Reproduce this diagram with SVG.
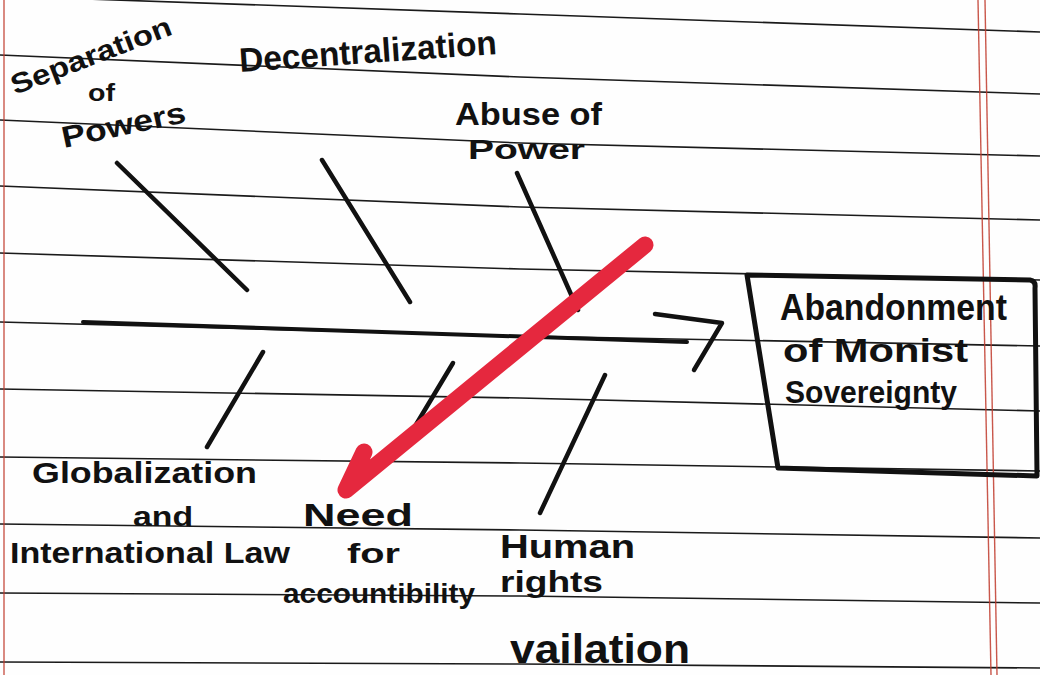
<svg xmlns="http://www.w3.org/2000/svg" width="1040" height="675" viewBox="0 0 1040 675">
<style>
.rule{fill:none;stroke:#1a1a1a;stroke-width:1.6}
.margin{fill:none;stroke:#c0392b;stroke-width:1.4;opacity:0.85}
.ink{fill:none;stroke:#111;stroke-linecap:round;stroke-linejoin:round}
.bone{stroke-width:4.5}
.hand{font-family:"Liberation Sans","DejaVu Sans",sans-serif;font-weight:bold;fill:#111}
.check{fill:none;stroke:#e5283e;stroke-width:17;stroke-linecap:round;stroke-linejoin:round}
</style>
<rect width="1040" height="675" fill="#fefefe"/>
<g id="paper">
<polyline class="rule" points="0,-4 520,14 1040,32"/>
<polyline class="rule" points="0,55 520,77 1040,94"/>
<polyline class="rule" points="0,120 520,143 1040,156"/>
<polyline class="rule" points="0,186 520,207 1040,220"/>
<polyline class="rule" points="0,253 520,269 1040,280"/>
<polyline class="rule" points="0,322 520,336 1040,346"/>
<polyline class="rule" points="0,389 520,398 1040,411"/>
<polyline class="rule" points="0,457 520,463 1040,471"/>
<polyline class="rule" points="0,524 520,530 1040,538"/>
<polyline class="rule" points="0,593 520,596 1040,603"/>
<polyline class="rule" points="0,662 520,664 1040,668"/>
<line class="margin" x1="4" y1="0" x2="4" y2="675"/>
<line class="margin" x1="978" y1="0" x2="991" y2="675"/>
<line class="margin" x1="985" y1="0" x2="997" y2="675"/>
</g>
<g id="connectors">
<path class="ink" stroke-width="4" d="M83,322 Q380,333 687,342"/>
<polyline class="ink bone" points="655,314 722,323 694,370"/>
<line class="ink bone" x1="117" y1="163" x2="247" y2="290"/>
<line class="ink bone" x1="322" y1="160" x2="410" y2="302"/>
<line class="ink bone" x1="517" y1="173" x2="578" y2="310"/>
<line class="ink bone" x1="263" y1="352" x2="207" y2="447"/>
<line class="ink bone" x1="453" y1="363" x2="405" y2="443"/>
<line class="ink bone" x1="605" y1="375" x2="540" y2="513"/>
</g>
<g id="head">
<path class="ink" stroke-width="5" d="M747,275 L1030,280 Q1036,281 1035,288 L1037,476 L778,468 Z"/>
<text class="hand" x="780" y="320" font-size="36" textLength="227" lengthAdjust="spacingAndGlyphs">Abandonment</text>
<text class="hand" x="783" y="362" font-size="34" textLength="185" lengthAdjust="spacingAndGlyphs">of Monist</text>
<text class="hand" x="785" y="403" font-size="31" textLength="172" lengthAdjust="spacingAndGlyphs">Sovereignty</text>
</g>
<g id="cause-separation">
<text class="hand" font-size="28" textLength="170" lengthAdjust="spacingAndGlyphs" transform="translate(15,95) rotate(-21)">Separation</text>
<text class="hand" x="88" y="101" font-size="24" textLength="27" lengthAdjust="spacingAndGlyphs">of</text>
<text class="hand" font-size="30" textLength="126" lengthAdjust="spacingAndGlyphs" transform="translate(64,148) rotate(-12)">Powers</text>
</g>
<g id="cause-decentralization">
<text class="hand" font-size="34" textLength="258" lengthAdjust="spacingAndGlyphs" transform="translate(240,72) rotate(-4)">Decentralization</text>
</g>
<g id="cause-abuse">
<text class="hand" x="455" y="125" font-size="32" textLength="147" lengthAdjust="spacingAndGlyphs">Abuse of</text>
<text class="hand" x="468" y="159" font-size="28" textLength="117" lengthAdjust="spacingAndGlyphs">Power</text>
</g>
<g id="cause-globalization">
<text class="hand" x="32" y="483" font-size="30" textLength="225" lengthAdjust="spacingAndGlyphs">Globalization</text>
<text class="hand" x="133" y="526" font-size="28" textLength="60" lengthAdjust="spacingAndGlyphs">and</text>
<text class="hand" x="10" y="563" font-size="30" textLength="280" lengthAdjust="spacingAndGlyphs">International Law</text>
</g>
<g id="cause-accountability">
<text class="hand" x="303" y="526" font-size="32" textLength="110" lengthAdjust="spacingAndGlyphs">Need</text>
<text class="hand" x="347" y="563" font-size="28" textLength="53" lengthAdjust="spacingAndGlyphs">for</text>
<text class="hand" x="283" y="603" font-size="28" textLength="192" lengthAdjust="spacingAndGlyphs">accountibility</text>
</g>
<g id="cause-human-rights">
<text class="hand" x="500" y="558" font-size="34" textLength="135" lengthAdjust="spacingAndGlyphs">Human</text>
<text class="hand" x="500" y="592" font-size="30" textLength="103" lengthAdjust="spacingAndGlyphs">rights</text>
<text class="hand" x="510" y="663" font-size="40" textLength="180" lengthAdjust="spacingAndGlyphs">vailation</text>
</g>
<g id="check-mark">
<polyline class="check" points="364,452 346,490 645,245"/>
</g>
</svg>
